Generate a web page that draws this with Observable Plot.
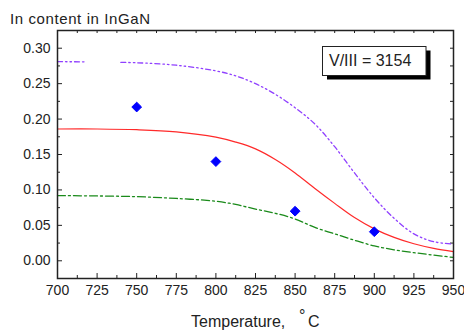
<!DOCTYPE html>
<html><head><meta charset="utf-8">
<script src="https://cdn.jsdelivr.net/npm/d3@7"></script>
<script src="https://cdn.jsdelivr.net/npm/@observablehq/plot@0.6"></script>
<style>body{margin:0;background:#fff;} svg{display:block;}</style>
</head><body><div id="chart"></div>
<script>
// ---- data ----
const temps = [700,725,750,775,800,812.5,825,837.5,850,862.5,875,887.5,900,912.5,925,937.5,950];
const redCurve = [0.186,0.186,0.185,0.182,0.1745,0.1675,0.158,0.143,0.124,0.102,0.081,0.061,0.045,0.033,0.024,0.0175,0.013];
const greenCurve = [0.092,0.0915,0.0905,0.088,0.084,0.0795,0.073,0.067,0.059,0.047,0.038,0.029,0.021,0.0155,0.0115,0.008,0.0047];
const purpleTemps = [700,717.5,718,740,750,775,800,812.5,825,837.5,850,862.5,875,887.5,900,912.5,925,937.5,950];
const purpleCurve = [0.281,0.2808,NaN,0.280,0.2795,0.276,0.268,0.261,0.250,0.235,0.216,0.193,0.161,0.124,0.089,0.060,0.038,0.027,0.0235];
const expTemps = [750,800,850,900];
const expIn = [0.217,0.140,0.070,0.041];
const xTicks = [700,725,750,775,800,825,850,875,900,925,950];
const xTickLabels = ["700","725","750","775","800","825","850","875","900","925","950"];
const xMinor = [712.5,737.5,762.5,787.5,812.5,837.5,862.5,887.5,912.5,937.5];
const yTicks = [0,0.05,0.10,0.15,0.20,0.25,0.30];
const yTickLabels = ["0.00","0.05","0.10","0.15","0.20","0.25","0.30"];
const yMinor = [-0.025,0.025,0.075,0.125,0.175,0.225,0.275,0.325];
const yTitle = "In content in InGaN";
const xTitle = "Temperature,";
const boxText = "V/III = 3154";

// ---- tables ----
const red = temps.map((t,i)=>({t, v: redCurve[i]}));
const green = temps.map((t,i)=>({t, v: greenCurve[i]}));
const purple = purpleTemps.map((t,i)=>({t, v: purpleCurve[i]}));
const exp = expTemps.map((t,i)=>({t, v: expIn[i]}));

const W=464, H=335, mL=57, mR=11, mT=30, mB=57;
const fw = W-mL-mR, fh = H-mT-mB;
const FONT = "'Liberation Sans', Arial, sans-serif";

const chart = Plot.plot({
  width: W, height: H, marginLeft: mL, marginRight: mR, marginTop: mT, marginBottom: mB,
  style: {fontFamily: FONT, fontSize: "14px", color: "#222", background: "#fff"},
  x: {domain: [700, 950]},
  y: {domain: [-0.025, 0.325]},
  marks: [
    Plot.axisX({ticks: xTicks, tickSize: 0, tickPadding: 7, tickFormat: (d)=>xTickLabels[xTicks.indexOf(d)], label: null, fill: "#222"}),
    Plot.axisY({ticks: yTicks, tickSize: 0, tickPadding: 7, tickFormat: (d)=>yTickLabels[yTicks.findIndex(v=>Math.abs(v-d)<1e-9)], label: null, fill: "#222"}),
    // inward ticks
    Plot.tickX(xTicks, {x: d=>d, insetTop: fh-5, stroke: "#222"}),
    Plot.tickX(xMinor, {x: d=>d, insetTop: fh-3, stroke: "#222"}),
    Plot.tickX(xTicks.concat(xMinor), {x: d=>d, insetBottom: fh-3, stroke: "#222"}),
    Plot.tickY(yTicks, {y: d=>d, insetRight: fw-5, stroke: "#222"}),
    Plot.tickY(yMinor, {y: d=>d, insetRight: fw-3, stroke: "#222"}),
    Plot.tickY(yTicks.concat(yMinor), {y: d=>d, insetLeft: fw-3, stroke: "#222"}),
    Plot.line(purple, {x: "t", y: "v", curve: "catmull-rom", stroke: "#9040ff", strokeWidth: 1.3, strokeDasharray: "5,3,1.5,3,1.5,3"}),
    Plot.line(red, {x: "t", y: "v", curve: "catmull-rom", stroke: "#ff2a2a", strokeWidth: 1.2}),
    Plot.line(green, {x: "t", y: "v", curve: "catmull-rom", stroke: "#1a8a1a", strokeWidth: 1.3, strokeDasharray: "8,3,2,3"}),
    Plot.dot(exp, {x: "t", y: "v", symbol: "diamond2", r: 4.4, fill: "#0000ff", stroke: "#0000ff", strokeWidth: 1, strokeLinejoin: "round"}),
    Plot.frame({stroke: "#222", strokeWidth: 1.5})
  ]
});
document.getElementById("chart").appendChild(chart);

const svg = d3.select(chart);
// y title
svg.append("text").attr("x", 10).attr("y", 24).attr("text-anchor", "start")
  .attr("font-family", FONT).attr("font-size", 15).attr("letter-spacing", 0.6)
  .attr("fill", "#222").text(yTitle);
// x title with superscript degree
const xt = svg.append("text").attr("y", 327).attr("text-anchor", "start")
  .attr("font-family", FONT).attr("font-size", 16).attr("fill", "#222");
xt.append("tspan").attr("x", 191).text(xTitle);
xt.append("tspan").attr("x", 299).attr("dy", -6).text("°");
xt.append("tspan").attr("x", 308).attr("dy", 6).text("C");
// annotation box with shadow
svg.append("rect").attr("x", 327).attr("y", 50.5).attr("width", 103.5).attr("height", 29).attr("fill", "#000");
svg.append("rect").attr("x", 322.5).attr("y", 46.5).attr("width", 103.5).attr("height", 29)
  .attr("fill", "#fff").attr("stroke", "#222").attr("stroke-width", 1);
svg.append("text").attr("x", 329).attr("y", 66).attr("text-anchor", "start")
  .attr("font-family", FONT).attr("font-size", 16).attr("fill", "#222").text(boxText);
</script>
</body></html>
